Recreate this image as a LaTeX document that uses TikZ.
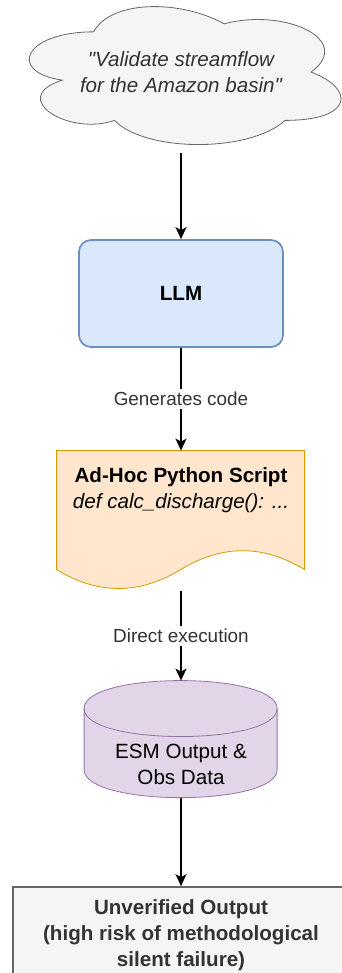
\documentclass[tikz,border=0pt]{standalone}
\usepackage{fontspec}
\setmainfont{Liberation Sans}
\usetikzlibrary{arrows.meta,backgrounds}

\definecolor{greyfill}{HTML}{F5F5F5}
\definecolor{greyline}{HTML}{666666}
\definecolor{greytext}{HTML}{333333}
\definecolor{bluefill}{HTML}{DAE8FC}
\definecolor{blueline}{HTML}{6C8EBF}
\definecolor{orangefill}{HTML}{FFE6CC}
\definecolor{orangeline}{HTML}{D79B00}
\definecolor{purplefill}{HTML}{E1D5E7}
\definecolor{purpleline}{HTML}{9673A6}

\newcommand{\boxfont}{\fontsize{10.3}{13}\selectfont}
\newcommand{\edgefont}{\fontsize{9.45}{11}\selectfont}

\begin{document}
\begin{tikzpicture}[
x=0.5pt,
y=0.5pt,
frame/.style={
  draw=none,
  inner sep=0pt
  },
txt/.style={
  align=center,
  font=\boxfont,
  inner sep=0pt
  },
lbl/.style={
  fill=white,
  font=\edgefont,
  text=greytext,
  inner sep=1.5pt
  },
outline/.style={line width=0.85pt},
flow/.style={->, line width=0.85pt},
>={Stealth[length=6pt,width=5.5pt,inset=1.5pt]}
]
\useasboundingbox (0,0) rectangle (342,-973);
\clip (0,0) rectangle (342,-973);

% boxes, top to bottom
\node[frame, txt, minimum width=174pt, minimum height=80.5pt, text=greytext, font=\boxfont\itshape] (prompt) at (181,-72.5) {\textquotedbl Validate streamflow\\for the Amazon basin\textquotedbl};
\node[txt, draw=blueline, fill=bluefill, outline, rounded corners=6pt, minimum width=102pt, minimum height=53.5pt, font=\boxfont\bfseries] (llm) at (181,-293.5) {LLM};
\node[frame, minimum width=124pt, minimum height=70pt] (script) at (181,-521) {};
\node[txt] (script-text) at (181,-490) {\textbf{Ad-Hoc Python Script}\\\textit{def calc\_discharge(): ...}};
\node[frame, minimum width=96.5pt, minimum height=58.5pt] (esm) at (181,-739.5) {};
\node[txt] (esm-text) at (181,-764) {ESM Output \&\\Obs Data};
\node[txt, draw=greyline, fill=greyfill, outline, minimum width=168pt, minimum height=48pt, text=greytext, font=\boxfont\bfseries] (result) at (181,-935) {Unverified Output\\(high risk of methodological\\silent failure)};

% shape outlines behind the text
\begin{scope}[on background layer, outline]
  % cloud, in the unit box of the prompt node
  \begin{scope}[shift={(prompt.north west)}, x=174pt, y=-80.5pt]
    \filldraw[draw=greyline, fill=greyfill] (0.25,0.25)
      .. controls (0.05,0.25) and (0,0.5) .. (0.16,0.55)
      .. controls (0,0.66) and (0.18,0.9) .. (0.31,0.8)
      .. controls (0.4,1) and (0.7,1) .. (0.8,0.8)
      .. controls (1,0.8) and (1,0.6) .. (0.875,0.5)
      .. controls (1,0.3) and (0.8,0.1) .. (0.625,0.2)
      .. controls (0.5,0.05) and (0.3,0.05) .. (0.25,0.25) -- cycle;
  \end{scope}
  % document with wavy foot
  \begin{scope}[shift={(script.north west)}, x=124pt, y=-70pt]
    \filldraw[draw=orangeline, fill=orangefill] (0,0) -- (1,0) -- (1,0.85)
      .. controls (0.8333,0.67) and (0.6667,0.67) .. (0.5,0.85)
      .. controls (0.3333,1.03) and (0.1667,1.03) .. (0,0.85) -- cycle;
  \end{scope}
  % data store cylinder
  \begin{scope}[shift={(esm.north west)}, x=96.5pt, y=-58.5pt]
    \filldraw[draw=purpleline, fill=purplefill] (0,0.239)
      .. controls (0,-0.08) and (1,-0.08) .. (1,0.239) -- (1,0.761)
      .. controls (1,1.08) and (0,1.08) .. (0,0.761) -- cycle;
    \draw[purpleline] (0,0.239) .. controls (0,0.558) and (1,0.558) .. (1,0.239);
  \end{scope}
\end{scope}

% connectors
\draw[flow] (prompt) -- (llm);
\draw[flow] (llm) -- node[lbl] (gen) {Generates code} (script);
\draw[flow] (script) -- node[lbl] (exec) {Direct execution} (esm);
\draw[flow] (esm) -- (result);
\end{tikzpicture}
\end{document}
